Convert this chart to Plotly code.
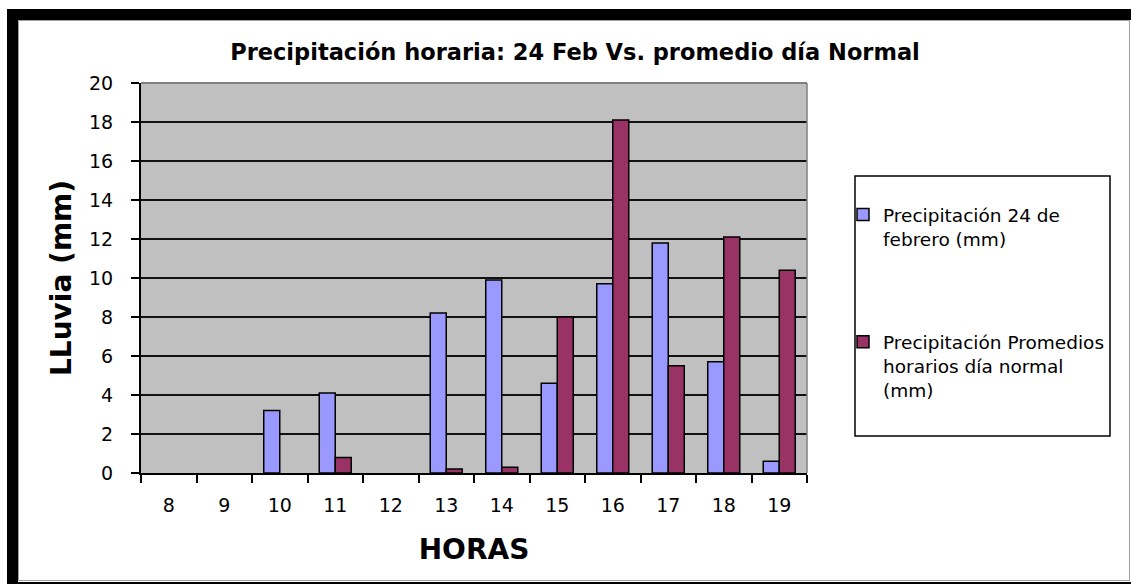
import plotly.graph_objects as go

# Hourly rainfall, 24 Feb vs. the average for a normal day (None = no rain recorded)
horas = ["8", "9", "10", "11", "12", "13", "14", "15", "16", "17", "18", "19"]
precip_24_feb = [None, None, 3.2, 4.1, None, 8.2, 9.9, 4.6, 9.7, 11.8, 5.7, 0.6]
precip_dia_normal = [None, None, None, 0.8, None, 0.2, 0.3, 8.0, 18.1, 5.5, 12.1, 10.4]
y_ticks = [0, 2, 4, 6, 8, 10, 12, 14, 16, 18, 20]

serie_1 = "Precipitación 24 de<br>febrero (mm)"
serie_2 = "Precipitación Promedios<br>horarios día normal<br>(mm)"

W, H = 1131, 584
ML, MR, MT, MB = 141, 324, 83, 111
PW, PH = W - ML - MR, H - MT - MB


def px(x):
    return (x - ML) / PW


def py(y):
    return (H - MB - y) / PH


FONT = "DejaVu Sans"

fig = go.Figure()
fig.add_trace(go.Bar(
    x=horas, y=precip_24_feb, name=serie_1, legendgroup="a",
    marker=dict(color="#9999FF", line=dict(color="black", width=1.5)),
))
fig.add_trace(go.Bar(
    x=horas, y=precip_dia_normal, name=serie_2, legendgroup="b",
    marker=dict(color="#993366", line=dict(color="black", width=1.5)),
))

shapes = []
# outer frame
shapes.append(dict(type="rect", xref="paper", yref="paper", layer="above",
                   x0=px(7), x1=px(1131), y0=py(9), y1=py(20),
                   fillcolor="black", line=dict(width=0)))
shapes.append(dict(type="rect", xref="paper", yref="paper", layer="above",
                   x0=px(7), x1=px(18), y0=py(9), y1=py(584),
                   fillcolor="black", line=dict(width=0)))
shapes.append(dict(type="rect", xref="paper", yref="paper", layer="above",
                   x0=px(7), x1=px(1131), y0=py(582), y1=py(584),
                   fillcolor="black", line=dict(width=0)))
for x0, y0, x1, y1 in [(18.5, 20.5, 1129.5, 20.5), (18.5, 20.5, 18.5, 581),
                       (1129.5, 20.5, 1129.5, 581), (18.5, 580.5, 1129.5, 580.5)]:
    shapes.append(dict(type="line", xref="paper", yref="paper", layer="above",
                       x0=px(x0), x1=px(x1), y0=py(y0), y1=py(y1),
                       line=dict(color="#A0A0A0", width=1)))
# plot-area border (top and right)
shapes.append(dict(type="line", xref="paper", yref="paper", layer="above",
                   x0=0, x1=1, y0=1, y1=1, line=dict(color="#808080", width=2)))
shapes.append(dict(type="line", xref="paper", yref="paper", layer="above",
                   x0=1, x1=1, y0=0, y1=1, line=dict(color="#808080", width=1.5)))
# legend box
shapes.append(dict(type="rect", xref="paper", yref="paper", layer="above",
                   x0=px(855), x1=px(1110), y0=py(176), y1=py(436),
                   fillcolor="white", line=dict(color="black", width=1.5)))

fig.update_layout(
    width=W, height=H,
    margin=dict(l=ML, r=MR, t=MT, b=MB, pad=0),
    paper_bgcolor="white",
    plot_bgcolor="#C0C0C0",
    barmode="group",
    bargap=0.423,
    bargroupgap=0,
    font=dict(family=FONT, color="black", size=19),
    title=dict(
        text="Precipitación horaria: 24 Feb Vs. promedio día Normal",
        x=575 / W, xanchor="center", xref="container",
        y=1 - 52 / H, yanchor="middle", yref="container",
        font=dict(family=FONT, size=22.5, weight="bold", color="black"),
    ),
    xaxis=dict(
        type="category",
        categoryorder="array", categoryarray=horas,
        showgrid=False,
        showline=True, linecolor="black", linewidth=2,
        ticks="outside", tickson="boundaries", ticklen=8,
        tickcolor="black", tickwidth=1.5,
        ticklabelstandoff=14,
        tickfont=dict(family=FONT, size=19, color="black"),
        title=dict(text="HORAS", standoff=25,
                   font=dict(family=FONT, size=28, weight="bold", color="black")),
    ),
    yaxis=dict(
        range=[0, 20],
        tickvals=y_ticks,
        showgrid=True, gridcolor="#111111", gridwidth=2,
        zeroline=False,
        showline=True, linecolor="black", linewidth=2,
        ticks="outside", ticklen=8, tickcolor="black", tickwidth=1.5,
        ticklabelstandoff=14,
        tickfont=dict(family=FONT, size=19, color="black"),
        title=dict(text="LLuvia (mm)", standoff=9,
                   font=dict(family=FONT, size=28, weight="bold", color="black")),
    ),
    legend=dict(
        x=px(843), xanchor="left", xref="paper",
        y=py(196), yanchor="top", yref="paper",
        bgcolor="rgba(0,0,0,0)", borderwidth=0,
        traceorder="grouped", tracegroupgap=76,
        valign="top",
        font=dict(family=FONT, size=18.5, color="black"),
    ),
    shapes=shapes,
)

fig.write_html("out.html")
